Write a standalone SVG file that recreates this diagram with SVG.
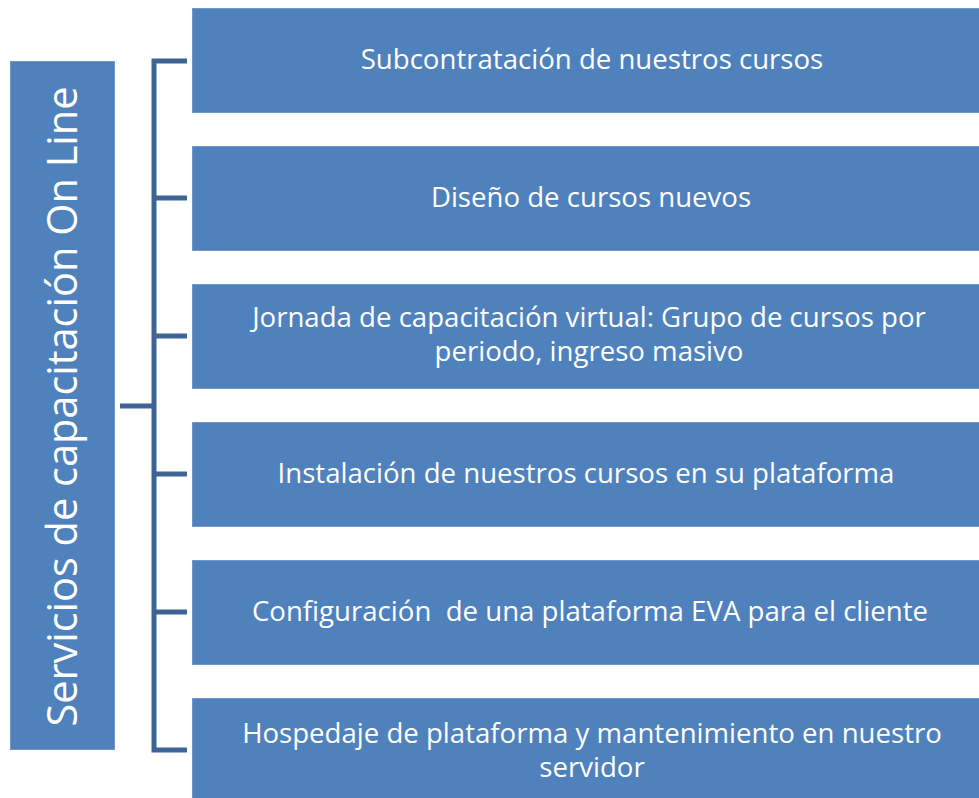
<svg xmlns="http://www.w3.org/2000/svg" width="979" height="798" viewBox="0 0 979 798">
<style>
.box{fill:#4F81BD;stroke:#7097C9;stroke-width:1}
.t{font-family:"Open Sans","Liberation Sans",sans-serif;font-size:27.6px;fill:#fff;text-anchor:middle;white-space:pre}
.v{font-family:"Open Sans","Liberation Sans",sans-serif;font-size:41.5px;fill:#fff;text-anchor:middle}
.br{fill:none;stroke:#3C6595;stroke-width:5}
</style>
<rect width="979" height="798" fill="#fff"/>
<g id="root">
<rect class="box" x="10.5" y="61.5" width="104" height="688"/>
<text class="v" transform="translate(77,406.5) rotate(-90)">Servicios de capacitación On Line</text>
</g>
<g id="connectors">
<path class="br" d="M187,61 H154 V750 H187"/>
<path class="br" d="M120,406 H154"/>
<path class="br" d="M154,198 H187 M154,336 H187 M154,474 H187 M154,612 H187"/>
</g>
<g id="n1"><rect class="box" x="192.5" y="8.5" width="800" height="104"/><text class="t" x="592" y="69">Subcontratación de nuestros cursos</text></g>
<g id="n2"><rect class="box" x="192.5" y="146.5" width="800" height="104"/><text class="t" x="591" y="207">Diseño de cursos nuevos</text></g>
<g id="n3"><rect class="box" x="192.5" y="284.5" width="800" height="104"/><text class="t" y="327"><tspan x="589" y="327">Jornada de capacitación virtual: Grupo de cursos por</tspan><tspan x="589" y="361">periodo, ingreso masivo</tspan></text></g>
<g id="n4"><rect class="box" x="192.5" y="422.5" width="800" height="104"/><text class="t" x="586" y="483">Instalación de nuestros cursos en su plataforma</text></g>
<g id="n5"><rect class="box" x="192.5" y="560.5" width="800" height="104"/><text class="t" x="590" y="621" xml:space="preserve">Configuración  de una plataforma EVA para el cliente</text></g>
<g id="n6"><rect class="box" x="192.5" y="698.5" width="800" height="104"/><text class="t" y="743"><tspan x="592" y="743">Hospedaje de plataforma y mantenimiento en nuestro</tspan><tspan x="592" y="777">servidor</tspan></text></g>
</svg>
